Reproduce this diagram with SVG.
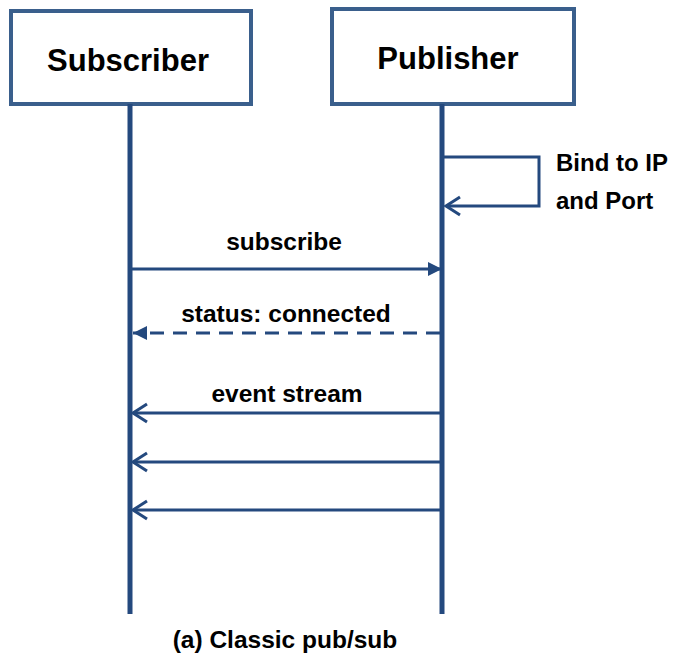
<svg xmlns="http://www.w3.org/2000/svg" width="674" height="659" viewBox="0 0 674 659">
<style>
.box{fill:#fff;stroke:#3a5f8c;stroke-width:4}
.life{stroke:#24497e;stroke-width:5;fill:none}
.msg{stroke:#24497e;stroke-width:3;fill:none}
.title{font-family:"Liberation Sans",Arial,sans-serif;font-weight:bold;font-size:31px;fill:#000;text-anchor:middle}
.lbl{font-family:"Liberation Sans",Arial,sans-serif;font-weight:bold;font-size:24.5px;fill:#000;text-anchor:middle}
.lbl-l{font-family:"Liberation Sans",Arial,sans-serif;font-weight:bold;font-size:24px;fill:#000}
</style>
<defs>
<marker id="filled" markerUnits="userSpaceOnUse" markerWidth="16" markerHeight="16" refX="14" refY="7" orient="auto">
<path d="M0,0 L14,7 L0,14 Z" fill="#24497e"/>
</marker>
<marker id="open" markerUnits="userSpaceOnUse" markerWidth="20" markerHeight="24" refX="16" refY="11" orient="auto">
<path d="M2,2 L16,11 L2,20" fill="none" stroke="#24497e" stroke-width="3"/>
</marker>
</defs>
<g id="subscriber">
<rect class="box" x="11" y="11" width="240" height="93"/>
<text class="title" x="128" y="71">Subscriber</text>
</g>
<g id="publisher">
<rect class="box" x="332" y="9" width="242" height="95"/>
<text class="title" x="448" y="69">Publisher</text>
</g>
<g id="lifelines">
<line class="life" x1="130" y1="104" x2="130" y2="614"/>
<line class="life" x1="442" y1="104" x2="442" y2="614"/>
</g>
<g id="connectors">
<path class="msg" d="M444,157 H539 V206 H446" marker-end="url(#open)"/>
<line class="msg" x1="132" y1="269" x2="442" y2="269" marker-end="url(#filled)"/>
<line class="msg" x1="440" y1="333" x2="133" y2="333" stroke-dasharray="14,9" marker-end="url(#filled)"/>
<line class="msg" x1="440" y1="413" x2="133" y2="413" marker-end="url(#open)"/>
<line class="msg" x1="440" y1="462" x2="133" y2="462" marker-end="url(#open)"/>
<line class="msg" x1="440" y1="510" x2="133" y2="510" marker-end="url(#open)"/>
</g>
<g id="labels">
<text class="lbl-l" x="556" y="171">Bind to IP</text>
<text class="lbl-l" x="556" y="209">and Port</text>
<text class="lbl" x="284" y="250">subscribe</text>
<text class="lbl" x="286" y="322">status: connected</text>
<text class="lbl" x="287" y="402">event stream</text>
<text class="lbl" x="285" y="648">(a) Classic pub/sub</text>
</g>
</svg>
